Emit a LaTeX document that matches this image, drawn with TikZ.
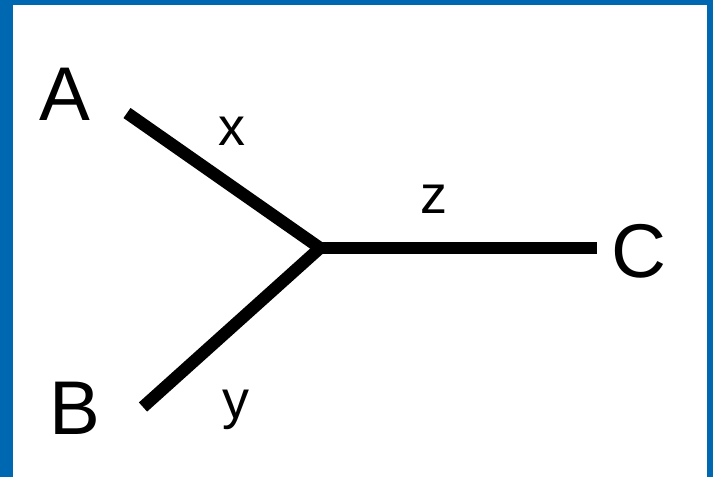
\documentclass[tikz,border=0pt]{standalone}
\usepackage{fontspec}
\setmainfont{Liberation Sans}
\usepackage{xcolor}
\usepackage{tikz}
\usetikzlibrary{positioning}
\definecolor{frameblue}{RGB}{0,104,176}

\begin{document}
\begin{tikzpicture}[x=0.03cm, y=-0.03cm,
  letter/.style={anchor=base, inner sep=0pt, font=\fontsize{65}{70}\selectfont},
  small/.style={anchor=base, inner sep=0pt, font=\fontsize{46}{50}\selectfont},
  branch/.style={line width=10.5pt, black}
]
%% Frame
\fill[frameblue] (0,0) rectangle (713,477);
\fill[white] (13,5) rectangle (707,477);
\useasboundingbox (0,0) rectangle (713,477);

%% Leaves
\node[letter] (A) at (65,120)  {A};
\node[letter] (B) at (75,434)  {B};
\node[letter] (C) at (639,277) {C};

%% Branch ends
\coordinate (J)  at (320,248);
\coordinate (a1) at (127,113);
\coordinate (b1) at (143,407);
\coordinate (c1) at (597,248);

%% Branches
\draw[branch] (a1) -- (J);
\draw[branch] (b1) -- (J);
\draw[branch] (J) -- (c1);

%% Lengths
\node[small] (x) at (232,145) {x};
\node[small] (y) at (236,418) {y};
\node[small] (z) at (434,213) {z};
\end{tikzpicture}
\end{document}
